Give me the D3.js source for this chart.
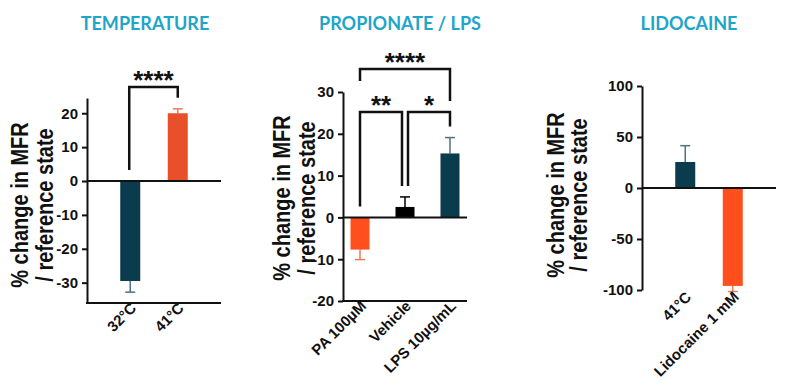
<!DOCTYPE html>
<html><head><meta charset="utf-8">
<script src="https://cdn.jsdelivr.net/npm/d3@7/dist/d3.min.js"></script>
<style>body{margin:0;background:#fff}svg{display:block}</style>
</head><body>
<svg id="chart" width="786" height="386"></svg>
<script>
// ---- data ----
const tempCategories = ["32°C", "41°C"];
const tempValues = [-29.5, 20.0];
const tempErrors = [3.3, 1.3];
const tempTicks = [-30, -20, -10, 0, 10, 20];
const tempColors = ["#0b3c4e", "#e8502a"];
const tempSig = [["32°C", "41°C", "****"]];

const propCategories = ["PA 100µM", "Vehicle", "LPS 10µg/mL"];
const propValues = [-7.7, 2.5, 15.3];
const propErrors = [2.4, 2.4, 3.8];
const propTicks = [-20, -10, 0, 10, 20, 30];
const propColors = ["#ff4f1c", "#000000", "#0b3c4e"];
const propSig = [["PA 100µM", "LPS 10µg/mL", "****"], ["PA 100µM", "Vehicle", "**"], ["Vehicle", "LPS 10µg/mL", "*"]];

const lidoCategories = ["41°C", "Lidocaine 1 mM"];
const lidoValues = [25.5, -96.0];
const lidoErrors = [16.0, 5.5];
const lidoTicks = [-100, -50, 0, 50, 100];
const lidoColors = ["#0b3c4e", "#ff4f1c"];
const lidoSig = [];

const titles = ["TEMPERATURE", "PROPIONATE / LPS", "LIDOCAINE"];
const yLabel = ["% change in MFR", "/ reference state"];

const errColor = c => c === "#000000" ? "#000" : (c === "#0b3c4e" ? "#4f7180" : "#f07a58");

const svg = d3.select("#chart");
const AXF = "'Liberation Sans', Arial, sans-serif";

function panel(cfg) {
  const g = svg.append("g");
  const y = d3.scaleLinear().domain(cfg.domain).range([cfg.yBottom, cfg.yTop]);
  const x = d3.scalePoint().domain(cfg.cats).range([cfg.x0, cfg.x1]).padding(cfg.pad);

  // title
  g.append("text").attr("x", cfg.titleX).attr("y", 30).attr("text-anchor", "middle")
    .attr("font-family", "Lato, sans-serif").attr("font-weight", 700).attr("font-size", 18)
    .attr("fill", "#1ea5ca").text(cfg.title);

  // y label
  yLabel.forEach((t, i) => {
    g.append("text")
      .attr("transform", `translate(${cfg.labX + i * cfg.labGap},${cfg.labY}) rotate(-90) scale(0.87,1)`)
      .attr("text-anchor", "middle").attr("font-family", AXF).attr("font-weight", 700)
      .attr("font-size", 23).attr("fill", "#111").text(t);
  });

  // y axis
  const ya = g.append("g").attr("transform", `translate(${cfg.x0},0)`)
    .call(d3.axisLeft(y).tickValues(cfg.ticks).tickFormat(d => String(d))
      .tickSize(5).tickPadding(4).tickSizeOuter(0));
  ya.select(".domain").attr("stroke", "#111").attr("stroke-width", 2);
  ya.selectAll(".tick line").attr("stroke", "#111").attr("stroke-width", 2);
  ya.selectAll(".tick text").attr("font-family", AXF).attr("font-weight", 700)
    .attr("font-size", 15).attr("fill", "#111");

  // bottom axis line
  if (cfg.bottomAxis) {
    g.append("line").attr("x1", cfg.x0 - 1).attr("x2", cfg.x1).attr("y1", cfg.yBottom).attr("y2", cfg.yBottom)
      .attr("stroke", "#111").attr("stroke-width", 2);
  }

  // error bars
  cfg.vals.forEach((v, i) => {
    const cx = x(cfg.cats[i]);
    const end = v >= 0 ? v + cfg.errs[i] : v - cfg.errs[i];
    const col = errColor(cfg.colors[i]);
    g.append("line").attr("x1", cx).attr("x2", cx).attr("y1", y(v)).attr("y2", y(end))
      .attr("stroke", col).attr("stroke-width", 1.5);
    g.append("line").attr("x1", cx - 5).attr("x2", cx + 5).attr("y1", y(end)).attr("y2", y(end))
      .attr("stroke", col).attr("stroke-width", 1.5);
  });

  // bars
  g.selectAll("rect.bar").data(cfg.vals).join("rect").attr("class", "bar")
    .attr("x", (d, i) => x(cfg.cats[i]) - cfg.bw / 2).attr("width", cfg.bw)
    .attr("y", d => y(Math.max(0, d))).attr("height", d => Math.abs(y(d) - y(0)))
    .attr("fill", (d, i) => cfg.colors[i]);

  // zero line
  g.append("line").attr("x1", cfg.x0).attr("x2", cfg.zeroEnd).attr("y1", y(0)).attr("y2", y(0))
    .attr("stroke", "#111").attr("stroke-width", 2);

  // x labels
  cfg.cats.forEach((c, i) => {
    g.append("text")
      .attr("transform", `translate(${x(c) + 7},${cfg.xLabY}) rotate(-45)`)
      .attr("text-anchor", "end").attr("font-family", AXF).attr("font-weight", 700)
      .attr("font-size", 15).attr("fill", "#111").text(c);
  });

  // significance brackets
  cfg.sig.forEach((s, k) => {
    const ia = cfg.cats.indexOf(s[0]), ib = cfg.cats.indexOf(s[1]);
    const legBottom = i => {
      const v = cfg.vals[i];
      return y(Math.max(0, v >= 0 ? v + cfg.errs[i] : 0)) - 11;
    };
    const top = cfg.sigTop[k];
    const xa = x(s[0]) + (cfg.sigShift[k] ? cfg.sigShift[k][0] : 0);
    const xb = x(s[1]) + (cfg.sigShift[k] ? cfg.sigShift[k][1] : 0);
    const ya0 = cfg.sigLeg && cfg.sigLeg[k] ? cfg.sigLeg[k][0] : legBottom(ia);
    const yb0 = cfg.sigLeg && cfg.sigLeg[k] ? cfg.sigLeg[k][1] : legBottom(ib);
    g.append("path").attr("d", `M${xa},${ya0}V${top}H${xb}V${yb0}`)
      .attr("fill", "none").attr("stroke", "#111").attr("stroke-width", 2.5);
    g.append("text").attr("x", (xa + xb) / 2).attr("y", top + 2).attr("text-anchor", "middle")
      .attr("font-family", AXF).attr("font-weight", 700).attr("font-size", 26)
      .attr("fill", "#111").text(s[2]);
  });
}

panel({
  title: titles[0], titleX: 145, cats: tempCategories, vals: tempValues, errs: tempErrors,
  colors: tempColors, ticks: tempTicks, domain: [-36, 24.5], yTop: 98, yBottom: 303,
  x0: 87, x1: 221, pad: 0.91, bw: 20, zeroEnd: 221, bottomAxis: true, xLabY: 309,
  labX: 28, labGap: 25, labY: 205, sig: tempSig, sigTop: [87], sigShift: [[-1, 0]]
});

panel({
  title: titles[1], titleX: 400, cats: propCategories, vals: propValues, errs: propErrors,
  colors: propColors, ticks: propTicks, domain: [-20, 30], yTop: 92, yBottom: 301,
  x0: 343, x1: 467, pad: 0.378, bw: 19, zeroEnd: 467, bottomAxis: true, xLabY: 307,
  labX: 290, labGap: 25, labY: 198, sig: propSig, sigTop: [69, 112, 112],
  sigShift: [[0, 0], [0, -3], [3, 0]], sigLeg: [[81, 101], null, null]
});

panel({
  title: titles[2], titleX: 689, cats: lidoCategories, vals: lidoValues, errs: lidoErrors,
  colors: lidoColors, ticks: lidoTicks, domain: [-100, 100], yTop: 86, yBottom: 290,
  x0: 642, x1: 776, pad: 0.91, bw: 20, zeroEnd: 776, bottomAxis: false, xLabY: 298,
  labX: 564, labGap: 23, labY: 195, sig: lidoSig, sigTop: []
});
</script>
</body></html>
